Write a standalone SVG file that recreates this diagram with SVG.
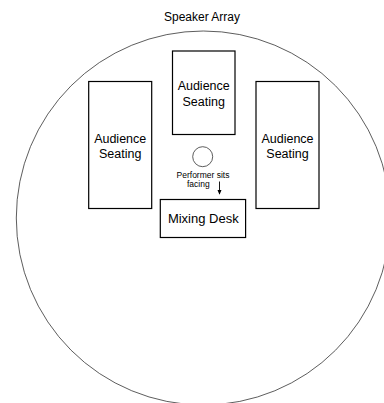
<svg xmlns="http://www.w3.org/2000/svg" width="384" height="403" viewBox="0 0 384 403">
<style>
.t{font-family:"Liberation Sans",Arial,sans-serif;fill:#000;text-anchor:middle}
.box{fill:#fff;stroke:#000;stroke-width:1.2}
</style>
<defs>
<marker id="ah" markerWidth="5" markerHeight="6" refX="5" refY="2.5" orient="auto" markerUnits="userSpaceOnUse" viewBox="0 0 6 5">
<path d="M0,0 L6,2.5 L0,5 Z" fill="#000"/>
</marker>
</defs>
<rect width="384" height="403" fill="#fff"/>
<g id="speaker-array">
<circle cx="203.3" cy="218" r="187" fill="none" stroke="#333" stroke-width="0.8"/>
<text class="t" x="202" y="21" font-size="12">Speaker Array</text>
</g>
<g id="seating-center">
<rect class="box" x="172.5" y="51" width="62.5" height="83.5"/>
<text class="t" x="203.7" y="90" font-size="12.5">Audience</text>
<text class="t" x="203.7" y="105.5" font-size="12.5">Seating</text>
</g>
<g id="seating-left">
<rect class="box" x="88.7" y="81.5" width="63" height="127"/>
<text class="t" x="120.2" y="142.5" font-size="12.5">Audience</text>
<text class="t" x="120.2" y="158" font-size="12.5">Seating</text>
</g>
<g id="seating-right">
<rect class="box" x="256" y="81.5" width="63" height="127"/>
<text class="t" x="287.5" y="142.5" font-size="12.5">Audience</text>
<text class="t" x="287.5" y="158" font-size="12.5">Seating</text>
</g>
<g id="performer">
<circle cx="202.7" cy="156.7" r="10" fill="#fff" stroke="#333" stroke-width="0.8"/>
<text class="t" x="203" y="177.5" font-size="8.5">Performer sits</text>
<text class="t" x="198.3" y="187" font-size="8.5">facing</text>
</g>
<g id="mixing-desk">
<rect class="box" x="160.3" y="199.5" width="85.3" height="38"/>
<text class="t" x="203.3" y="222.5" font-size="13">Mixing Desk</text>
</g>
<g id="connectors">
<line x1="219.5" y1="181.5" x2="219.5" y2="194" stroke="#000" stroke-width="0.9" marker-end="url(#ah)"/>
</g>
</svg>
